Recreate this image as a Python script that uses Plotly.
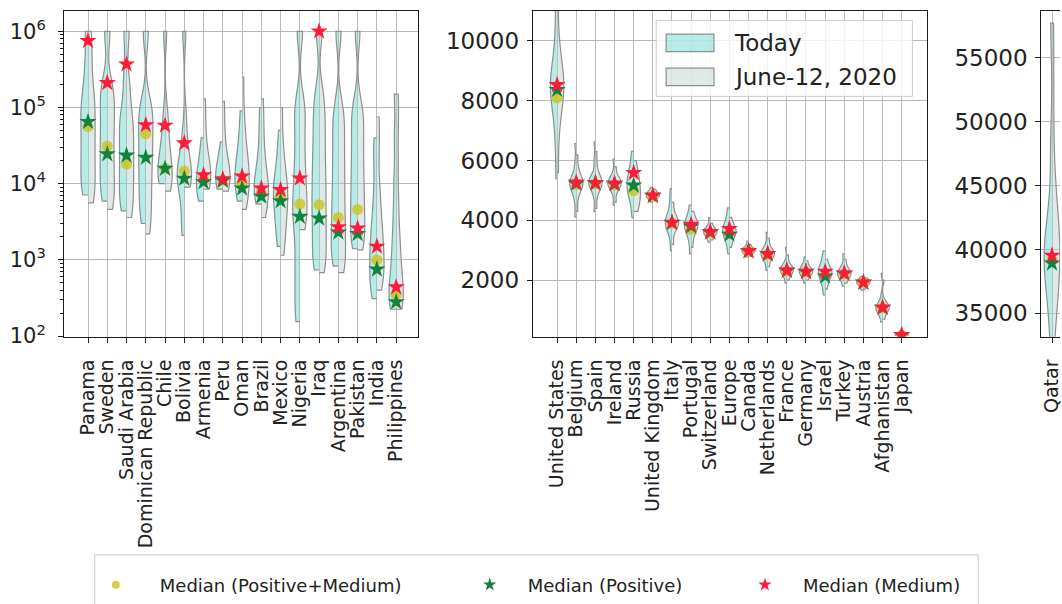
import numpy as np
import plotly.graph_objects as go

W, H = 1062, 604

# ---------------- left panel (log scale) ----------------
left_countries = ["Panama", "Sweden", "Saudi Arabia", "Dominican Republic", "Chile",
                  "Bolivia", "Armenia", "Peru", "Oman", "Brazil", "Mexico", "Nigeria",
                  "Iraq", "Argentina", "Pakistan", "India", "Philippines"]

left_today = [
    [7100, 10000, 16000, 25000, 40000, 63000, 100000, 140000, 320000, 1e6],
    [5900, 9000, 14000, 22000, 35000, 55000, 90000, 150000, 200000, 1e6],
    [4400, 6500, 10000, 16000, 25000, 40000, 63000, 90000, 250000, 1e6],
    [3000, 5000, 8000, 13000, 20000, 32000, 50000, 80000, 110000, 1e6],
    [10000, 11000, 13000, 15000, 18000, 25000, 40000, 70000, 1e6],
    [2100, 4000, 9000, 11000, 13000, 15000, 20000, 40000, 1e6],
    [5900, 7000, 8500, 10000, 11500, 13000, 16000, 25000, 40000],
    [8500, 10000, 11000, 12000, 13000, 15000, 20000, 35000],
    [5900, 7500, 9000, 11000, 13000, 16000, 20000, 28000, 45000, 90000],
    [5400, 6500, 7500, 8500, 10000, 12000, 16000, 25000, 50000, 100000],
    [1500, 2200, 3200, 4500, 6000, 7500, 9000, 11000, 15000, 25000, 50000],
    [155, 300, 600, 1200, 2500, 4000, 6000, 10000, 18000, 35000, 70000, 120000, 1e6],
    [740, 1200, 2000, 3500, 5500, 9000, 15000, 25000, 45000, 80000, 150000, 1e6],
    [830, 1200, 1800, 2800, 4500, 7000, 12000, 20000, 35000, 60000, 100000, 1e6],
    [1400, 2000, 3000, 4500, 7000, 11000, 17000, 28000, 45000, 75000, 110000, 1e6],
    [310, 420, 600, 850, 1200, 1700, 2500, 4000, 8000, 20000, 40000],
    [225, 260, 320, 420, 600, 900, 1400, 2500, 5000, 12000, 40000, 150000],
]
left_june = [
    [5600, 8000, 13000, 20000, 32000, 50000, 80000, 120000, 200000, 450000, 1e6],
    [4600, 7000, 11000, 18000, 30000, 50000, 80000, 130000, 190000, 1e6],
    [3600, 5500, 9000, 14000, 22000, 35000, 55000, 85000, 200000, 1e6],
    [2200, 4000, 7000, 12000, 20000, 32000, 50000, 80000, 110000, 1e6],
    [8000, 9500, 12000, 15000, 20000, 30000, 50000, 90000, 1e6],
    [9000, 10500, 12500, 15000, 20000, 35000, 80000, 1e6],
    [8500, 10000, 11500, 13000, 15000, 20000, 30000, 60000, 130000],
    [8000, 9500, 11000, 12500, 14000, 17000, 25000, 50000, 120000],
    [4600, 6500, 8500, 11000, 14000, 18000, 25000, 40000, 80000, 250000],
    [3600, 5000, 6500, 8000, 9500, 12000, 17000, 30000, 60000, 130000],
    [1150, 1800, 2800, 4000, 5500, 7000, 9000, 12000, 18000, 35000, 100000],
    [2500, 4000, 6000, 10000, 18000, 35000, 70000, 120000, 1e6],
    [680, 1100, 1800, 3000, 5000, 8500, 14000, 25000, 45000, 80000, 150000, 1e6],
    [680, 1000, 1600, 2600, 4200, 7000, 12000, 20000, 35000, 60000, 100000, 1e6],
    [1350, 1900, 2800, 4200, 6500, 10000, 16000, 26000, 42000, 70000, 100000, 1e6],
    [400, 550, 750, 1000, 1400, 2000, 3000, 5000, 10000, 30000, 75000],
    [225, 270, 340, 450, 650, 1000, 1600, 3000, 7000, 20000, 60000, 150000],
]
left_med_all = [56000, 31000, 18000, 45000, 16000, 14700, 11500, 11200, 10000, 7600,
                7000, 5400, 5300, 3600, 4600, 1000, 350]
left_med_pos = [65000, 24500, 23500, 22000, 15800, 11700, 10500, 11000, 8700, 6800,
                5900, 3700, 3500, 2300, 2200, 750, 280]
left_med_medium = [750000, 210000, 370000, 59000, 58000, 34000, 13000, 11500, 12500, 8700,
                   8300, 11800, 1000000, 2700, 2600, 1500, 440]

# ---------------- middle panel (linear) ----------------
mid_countries = ["United States", "Belgium", "Spain", "Ireland", "Russia", "United Kingdom",
                 "Italy", "Portugal", "Switzerland", "Europe", "Canada", "Netherlands",
                 "France", "Germany", "Israel", "Turkey", "Austria", "Afghanistan", "Japan"]

mid_today = [
    [5400, 6600, 7400, 7900, 8200, 8400, 8500, 8600, 8800, 9100, 9600, 10500, 11500],
    [4120, 4700, 5000, 5150, 5220, 5280, 5350, 5450, 5900, 6570],
    [4290, 4850, 5100, 5200, 5250, 5300, 5380, 5500, 6000, 6630],
    [4510, 4950, 5120, 5190, 5240, 5290, 5360, 5550, 6050],
    [4090, 4650, 4900, 5050, 5150, 5250, 5400, 5600, 5900, 6310],
    [4610, 4720, 4790, 4830, 4860, 4900, 4970, 5100],
    [2980, 3500, 3780, 3880, 3930, 3980, 4060, 4300, 4700, 5060],
    [2880, 3350, 3620, 3750, 3820, 3880, 3960, 4150, 4510],
    [3270, 3460, 3550, 3600, 3640, 3690, 3780, 4090],
    [2880, 3250, 3450, 3560, 3630, 3690, 3760, 3900, 4100, 4420],
    [2780, 2890, 2950, 2980, 3010, 3050, 3120, 3310],
    [2330, 2620, 2780, 2850, 2890, 2930, 3000, 3200, 3600],
    [1900, 2150, 2260, 2310, 2350, 2390, 2460, 2600, 3100],
    [1900, 2100, 2210, 2260, 2300, 2340, 2420, 2550, 2780],
    [1510, 1850, 2050, 2170, 2240, 2300, 2380, 2500, 2700, 2980],
    [1800, 2020, 2140, 2190, 2230, 2270, 2350, 2500, 2880],
    [1670, 1800, 1870, 1910, 1940, 1970, 2030, 2130],
    [600, 850, 1000, 1060, 1090, 1120, 1200, 1500, 2230],
    [140, 155, 165, 172, 180, 200],
]
mid_june = [
    [5600, 7000, 7700, 8100, 8350, 8500, 8650, 8900, 9300, 10000, 11500],
    [4300, 4850, 5100, 5200, 5260, 5320, 5420, 5700, 6200],
    [4400, 4950, 5150, 5230, 5280, 5340, 5450, 5800, 6300],
    [4600, 5000, 5150, 5220, 5270, 5330, 5450, 5800],
    [4300, 4550, 4650, 4800, 5050, 5200, 5350, 5600, 6000],
    [4650, 4760, 4810, 4850, 4880, 4930, 5050],
    [3200, 3650, 3830, 3900, 3950, 4010, 4200, 4600],
    [3100, 3500, 3700, 3790, 3850, 3920, 4050, 4300],
    [3350, 3500, 3570, 3620, 3660, 3720, 3900],
    [3100, 3380, 3520, 3600, 3660, 3730, 3850, 4100],
    [2800, 2910, 2960, 2990, 3020, 3070, 3200],
    [2450, 2720, 2820, 2870, 2910, 2960, 3100, 3400],
    [2000, 2200, 2290, 2330, 2370, 2420, 2550, 2850],
    [2000, 2160, 2240, 2280, 2310, 2360, 2450, 2650],
    [1700, 1980, 2120, 2210, 2270, 2330, 2450, 2700],
    [1900, 2070, 2160, 2210, 2250, 2300, 2450, 2700],
    [1700, 1830, 1890, 1930, 1960, 2000, 2080],
    [700, 900, 1030, 1080, 1110, 1150, 1300, 2000],
    [145, 158, 168, 175, 185, 195],
]
mid_med_all = [8100, 5200, 5220, 5180, 5000, 4800, 3900, 3700, 3580, 3580, 2960, 2850,
               2300, 2270, 2200, 2210, 1920, 1070, 165]
mid_med_pos = [8370, 5230, 5240, 5210, 5170, 4820, 3920, 3800, 3600, 3530, 2970, 2870,
               2320, 2280, 2130, 2220, 1925, 1080, 168]
mid_med_medium = [8530, 5270, 5260, 5240, 5590, 4840, 3930, 3860, 3620, 3720, 2980, 2880,
                  2330, 2290, 2290, 2230, 1930, 1090, 171]

# ---------------- right panel ----------------
right_countries = ["Qatar"]
right_today = [[33000, 36000, 37500, 38500, 39200, 39700, 40300, 41200, 43000, 48000, 57700]]
right_june = [[33000, 36500, 38000, 39000, 39600, 40200, 41000, 42500, 46000, 52000, 57700]]
right_med_all = [39200]
right_med_pos = [38920]
right_med_medium = [39530]

left_ticks = [2, 3, 4, 5, 6]
mid_ticks = [2000, 4000, 6000, 8000, 10000]
right_ticks = [35000, 40000, 45000, 50000, 55000]

legend_labels = ["Today", "June-12, 2020"]
median_labels = ["Median (Positive+Medium)", "Median (Positive)", "Median (Medium)"]

# ---------------- styling ----------------
FONT = "DejaVu Sans"
TXT = "#222222"
GRID = "#b9b9b9"
EDGE = "#8e8e8e"
TODAY_FILL = "rgba(105,218,208,0.5)"
JUNE_FILL = "rgba(185,208,203,0.45)"
C_ALL = "rgba(205,195,25,0.8)"
C_POS = "#13823c"
C_MED = "#ff1a3a"


def px(x):
    return x / W


def py(y):
    return 1 - y / H


fig = go.Figure()

panels = [
    ("x", "y", left_countries, left_today, left_june,
     left_med_all, left_med_pos, left_med_medium, np.log10, 0.22, 0.74),
    ("x2", "y2", mid_countries, mid_today, mid_june,
     mid_med_all, mid_med_pos, mid_med_medium, None, None, 0.7),
    ("x3", "y3", right_countries, right_today, right_june,
     right_med_all, right_med_pos, right_med_medium, None, None, 0.82),
]

for xa, ya, cats, today, june, m_all, m_pos, m_med, tf, bw, vwidth in panels:
    # split violins: Today on the left half, June-12 on the right half,
    # each half normalised to its own maximum width
    for cat, s_today, s_june in zip(cats, today, june):
        for samples, side, fill in ((s_today, "negative", TODAY_FILL),
                                    (s_june, "positive", JUNE_FILL)):
            ys = np.asarray(samples, dtype=float)
            if tf is not None:
                ys = tf(ys)
            vkw = dict(bandwidth=bw) if bw else {}
            fig.add_trace(go.Violin(
                x=[cat] * len(ys), y=ys, xaxis=xa, yaxis=ya, side=side,
                width=vwidth, scalegroup="%s|%s|%s" % (xa, cat, side),
                spanmode="hard", scalemode="width", points=False,
                line=dict(color=EDGE, width=1.2), fillcolor=fill,
                box_visible=False, meanline_visible=False,
                showlegend=False, hoverinfo="skip", **vkw))
    for vals, sym, col, size in ((m_all, "circle", C_ALL, 11),
                                 (m_pos, "star", C_POS, 13),
                                 (m_med, "star", C_MED, 13)):
        yv = np.asarray(vals, dtype=float)
        if tf is not None:
            yv = tf(yv)
        fig.add_trace(go.Scatter(
            x=cats, y=yv, xaxis=xa, yaxis=ya, mode="markers",
            marker=dict(symbol=sym, color=col, size=size, line=dict(width=0)),
            showlegend=False, hoverinfo="skip"))

# legend entries for the median markers
for i, (lab, sym, col, size) in enumerate(zip(median_labels, ["circle", "star", "star"],
                                               [C_ALL, C_POS, C_MED], [8, 10, 10])):
    fig.add_trace(go.Scatter(
        x=[None], y=[None], mode="markers", name=lab,
        marker=dict(symbol=sym, color=col, size=size, line=dict(width=0)),
        legend=["legend", "legend2", "legend3"][i], showlegend=True))

axis_common = dict(showline=True, linecolor="#1a1a1a", linewidth=1.2,
                   ticks="outside", ticklen=5, tickcolor="#1a1a1a",
                   showgrid=True, gridcolor=GRID, gridwidth=1, zeroline=False,
                   tickfont=dict(family=FONT, size=23, color=TXT))


def xcat(cats):
    return dict(type="category", tickangle=-90, tickmode="array",
                tickvals=cats, ticktext=cats, ticklabelstandoff=9,
                categoryorder="array", categoryarray=cats,
                tickfont=dict(family=FONT, size=19, color=TXT))


def ynum(ticks, labels=None, standoff=3):
    return dict(tickmode="array", tickvals=ticks, ticklabelstandoff=standoff,
                ticktext=labels if labels else [str(t) for t in ticks])


ydom = [py(346), py(11)]
minor_vals = [np.log10(k) + e for e in range(1, 7) for k in range(2, 10)
              if 1.99 <= np.log10(k) + e <= 6.27]

fig.update_layout(
    width=W, height=H, autosize=False,
    margin=dict(l=0, r=0, t=0, b=0),
    paper_bgcolor="white", plot_bgcolor="white",
    violinmode="overlay",
    xaxis=dict(axis_common, **xcat(left_countries), domain=[px(63.3), px(418.3)],
               anchor="y", range=[-1.24, 17.14], mirror=True),
    yaxis=dict(axis_common,
               **ynum(left_ticks, ["10<sup>%d</sup>" % e for e in left_ticks], standoff=8),
               domain=ydom, anchor="x", range=[1.99, 6.27], mirror=True,
               tickfont=dict(family=FONT, size=21, color=TXT),
               minor=dict(tickmode="array", tickvals=minor_vals, ticks="outside",
                          ticklen=3, tickcolor="#1a1a1a", showgrid=False)),
    xaxis2=dict(axis_common, **xcat(mid_countries), domain=[px(533.3), px(929)],
                anchor="y2", range=[-1.27, 19.34], mirror=True),
    yaxis2=dict(axis_common, **ynum(mid_ticks), domain=ydom, anchor="x2",
                range=[106, 11012], mirror=True),
    xaxis3=dict(axis_common, **xcat(right_countries), domain=[px(1043.3), 1.0],
                anchor="y3", range=[-0.557, 0.417], mirror=True),
    yaxis3=dict(axis_common, **ynum(right_ticks), domain=ydom, anchor="x3",
                range=[33170, 58660]),
)

# bottom legends, one per median marker
leg_common = dict(orientation="h", bgcolor="rgba(0,0,0,0)", borderwidth=0,
                  yanchor="top", xanchor="left",
                  font=dict(family=FONT, size=18, color=TXT))
fig.update_layout(
    legend=dict(leg_common, itemwidth=78, x=px(71), y=py(582)),
    legend2=dict(leg_common, itemwidth=66, x=px(452), y=py(582)),
    legend3=dict(leg_common, itemwidth=66, x=px(728), y=py(582)),
)

shapes = [
    # frame of the bottom legend
    dict(type="rect", xref="paper", yref="paper", x0=px(94), x1=px(980), y0=py(640), y1=py(570),
         line=dict(color="#cccccc", width=1), fillcolor="rgba(0,0,0,0)", layer="above"),
    # Today / June legend box
    dict(type="rect", xref="paper", yref="paper", x0=px(657), x1=px(914), y0=py(99), y1=py(21),
         line=dict(color="#cccccc", width=1), fillcolor="rgba(255,255,255,0.8)", layer="above"),
    dict(type="rect", xref="paper", yref="paper", x0=px(667), x1=px(715), y0=py(53), y1=py(35),
         line=dict(color=EDGE, width=1.2), fillcolor=TODAY_FILL, layer="above"),
    dict(type="rect", xref="paper", yref="paper", x0=px(667), x1=px(715), y0=py(88), y1=py(70),
         line=dict(color=EDGE, width=1.2), fillcolor=JUNE_FILL, layer="above"),
]
annotations = [
    dict(text=legend_labels[0], xref="paper", yref="paper", x=px(733), y=py(44),
         xanchor="left", yanchor="middle", showarrow=False,
         font=dict(family=FONT, size=23, color=TXT)),
    dict(text=legend_labels[1], xref="paper", yref="paper", x=px(733), y=py(79),
         xanchor="left", yanchor="middle", showarrow=False,
         font=dict(family=FONT, size=23, color=TXT)),
]
fig.update_layout(shapes=shapes, annotations=annotations)

fig.write_html("out.html")
